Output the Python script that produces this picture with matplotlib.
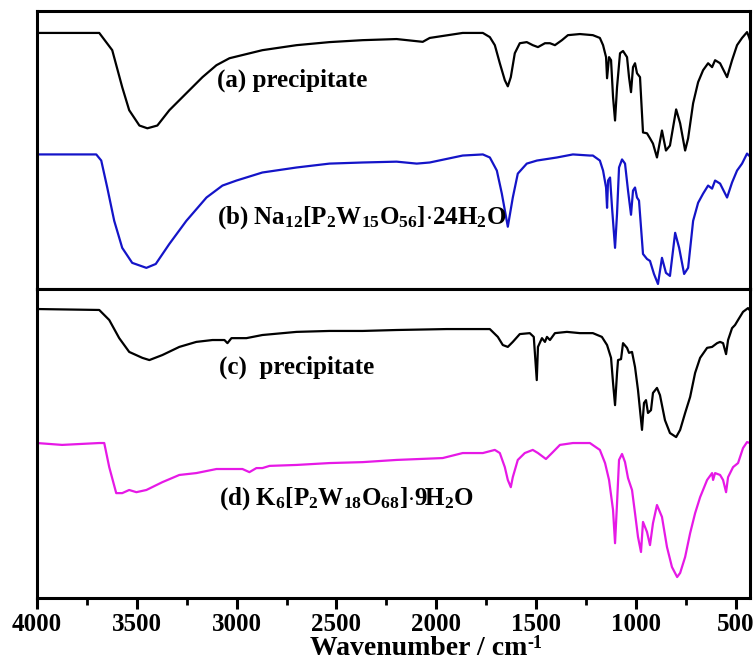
import numpy as np
import matplotlib
matplotlib.use('Agg')
import matplotlib.pyplot as plt
from matplotlib.ticker import MultipleLocator

plt.rcParams['font.family'] = 'Liberation Serif'
plt.rcParams['font.weight'] = 'bold'
plt.rcParams['mathtext.fontset'] = 'custom'
plt.rcParams['mathtext.rm'] = 'Liberation Serif:bold'
plt.rcParams['mathtext.it'] = 'Liberation Serif:bold'
plt.rcParams['mathtext.bf'] = 'Liberation Serif:bold'

# --- (a) precipitate, верхняя панель ---
a_wn = [4000, 3688, 3623, 3573, 3538, 3487, 3447, 3397, 3337, 3252,
        3171, 3101, 3036, 2871, 2700, 2535, 2369, 2199, 2068, 2033,
        1868, 1767, 1732, 1707, 1682, 1657, 1642, 1627, 1607, 1582,
        1547, 1517, 1491, 1456, 1431, 1406, 1371, 1341, 1281, 1216,
        1181, 1165, 1150, 1145, 1135, 1125, 1115, 1105, 1095, 1080,
        1065, 1045, 1035, 1025, 1015, 1005, 995, 980, 965, 945,
        930, 915, 895, 870, 850, 830, 799, 779, 754, 739,
        714, 689, 664, 639, 619, 604, 579, 544, 519, 494,
        469, 444, 434, 419]
a_T = [92.1, 92.1, 85.9, 72.6, 64.3, 58.8, 57.8, 58.8, 64.3, 70.4,
       76.2, 80.5, 83.0, 85.9, 87.7, 88.8, 89.5, 89.9, 88.9, 90.3,
       92.1, 92.1, 90.6, 87.7, 81.2, 75.1, 72.9, 76.2, 84.8, 88.4,
       88.8, 87.7, 87.0, 88.4, 88.4, 87.7, 89.5, 91.3, 91.7, 91.3,
       90.3, 87.7, 83.4, 75.8, 83.4, 82.3, 69.0, 60.6, 72.6, 84.8,
       85.6, 83.4, 76.2, 70.8, 79.8, 81.2, 77.6, 76.2, 56.3, 56.0,
       54.2, 52.3, 47.3, 57.0, 49.8, 51.6, 64.6, 59.6, 49.8, 54.2,
       66.8, 74.4, 78.7, 81.2, 79.8, 82.3, 81.2, 76.2, 82.3, 87.7,
       90.3, 92.4, 90.6, 87.0]

# --- (b) Na12[P2W15O56]·24H2O ---
b_wn = [4000, 3703, 3678, 3648, 3613, 3573, 3523, 3452, 3405, 3337,
        3252, 3151, 3071, 3001, 2871, 2700, 2535, 2369, 2199, 2098,
        2033, 1868, 1767, 1732, 1697, 1672, 1642, 1617, 1592, 1547,
        1496, 1396, 1316, 1231, 1216, 1181, 1165, 1150, 1145, 1140,
        1130, 1120, 1105, 1095, 1085, 1070, 1055, 1040, 1025, 1015,
        1005, 995, 985, 965, 945, 930, 910, 890, 870, 850,
        830, 804, 784, 759, 739, 714, 689, 664, 639, 619,
        604, 579, 544, 519, 494, 469, 444, 424]
b_T = [48.4, 48.4, 46.2, 36.5, 24.5, 14.8, 9.4, 7.6, 9.0, 16.2,
       24.5, 32.9, 37.2, 39.0, 41.9, 43.7, 45.1, 45.5, 45.8, 45.1,
       45.5, 48.0, 48.4, 47.3, 42.6, 34.3, 22.4, 32.9, 41.5, 45.1,
       46.2, 47.3, 48.4, 48.0, 48.0, 46.2, 42.6, 36.5, 29.2, 39.0,
       40.1, 29.2, 14.8, 27.1, 43.7, 46.6, 45.1, 35.4, 26.7, 35.4,
       36.5, 32.9, 31.8, 12.6, 10.8, 10.1, 5.4, 1.8, 11.2, 5.8,
       4.7, 20.2, 14.8, 5.4, 7.6, 24.5, 31.0, 34.3, 37.2, 36.1,
       39.0, 37.9, 32.9, 38.3, 42.6, 45.1, 48.7, 47.3]

# --- (c) precipitate, нижняя панель ---
c_wn = [4000, 3688, 3638, 3588, 3538, 3472, 3437, 3372, 3287, 3202,
        3121, 3061, 3046, 3026, 2951, 2871, 2700, 2535, 2369, 2199,
        1948, 1732, 1692, 1667, 1642, 1617, 1582, 1532, 1512, 1497,
        1491, 1471, 1456, 1446, 1431, 1406, 1346, 1281, 1216, 1171,
        1145, 1125, 1115, 1105, 1095, 1090, 1075, 1065, 1045, 1035,
        1020, 1005, 990, 970, 960, 950, 940, 925, 915, 895,
        880, 855, 830, 799, 779, 754, 729, 704, 679, 644,
        619, 594, 579, 564, 549, 539, 519, 504, 489, 464,
        439, 419]
c_T = [93.6, 93.3, 90.1, 84.3, 79.9, 78.0, 77.3, 78.9, 81.5, 83.1,
       83.7, 83.7, 82.7, 84.3, 84.3, 85.3, 86.3, 86.6, 86.6, 86.9,
       87.2, 87.2, 84.7, 82.1, 81.5, 83.1, 85.6, 85.9, 84.7, 70.9,
       81.5, 84.3, 83.1, 84.7, 83.7, 85.9, 86.3, 85.9, 85.9, 84.7,
       82.1, 78.0, 70.0, 62.9, 73.2, 77.3, 77.6, 82.7, 81.2, 79.6,
       79.9, 75.1, 67.7, 55.0, 63.6, 64.5, 60.4, 61.3, 66.8, 68.4,
       66.1, 58.1, 54.0, 52.7, 55.0, 60.4, 65.5, 73.2, 78.0, 81.2,
       81.5, 82.7, 83.1, 82.7, 79.2, 83.7, 87.5, 88.5, 90.1, 92.7,
       93.9, 92.3]

# --- (d) K6[P2W18O68]·9H2O ---
d_wn = [4000, 3874, 3688, 3663, 3638, 3603, 3573, 3538, 3502, 3452,
        3372, 3287, 3202, 3101, 2971, 2936, 2901, 2871, 2835, 2700,
        2535, 2369, 2199, 1968, 1868, 1767, 1707, 1682, 1657, 1642,
        1627, 1617, 1592, 1557, 1517, 1491, 1451, 1421, 1381, 1316,
        1231, 1181, 1155, 1135, 1115, 1105, 1095, 1085, 1070, 1055,
        1040, 1020, 1005, 990, 975, 965, 945, 930, 915, 895,
        870, 845, 820, 794, 779, 754, 729, 704, 679, 644,
        619, 614, 604, 579, 564, 549, 539, 514, 489, 464,
        444, 429, 419]
d_T = [50.8, 50.2, 50.8, 50.8, 43.1, 34.8, 34.8, 35.8, 35.1, 35.8,
       38.3, 40.6, 41.2, 42.5, 42.5, 41.5, 42.8, 42.8, 43.5, 43.8,
       44.4, 44.7, 45.4, 46.0, 47.6, 47.6, 48.6, 47.6, 43.1, 39.0,
       36.7, 39.9, 45.4, 47.6, 48.6, 47.6, 45.7, 47.6, 50.2, 50.8,
       50.8, 48.6, 44.4, 39.0, 29.4, 18.8, 31.6, 45.4, 47.3, 44.7,
       39.6, 35.8, 28.4, 20.8, 16.0, 25.6, 22.4, 18.2, 25.2, 31.0,
       27.2, 17.6, 11.2, 8.0, 9.3, 14.4, 22.0, 28.4, 33.5, 39.0,
       41.2, 39.0, 41.2, 40.6, 39.0, 35.1, 39.9, 43.1, 44.4, 49.2,
       51.1, 50.8, 39.9]

labels = ['(a) precipitate',
          r'(b) Na$_{12}$[P$_2$W$_{15}$O$_{56}$]$\cdot$24H$_2$O',
          '(c)  precipitate',
          r'(d) K$_6$[P$_2$W$_{18}$O$_{68}$]$\cdot$9H$_2$O']


def style_panel(ax, ylim):
    """Рамка, пределы и отсутствие делений по Y"""
    ax.set_xlim(4000, 428)
    ax.set_ylim(*ylim)
    ax.set_yticks([])
    for s in ax.spines.values():
        s.set_linewidth(2.2)


fig = plt.figure(figsize=(7.54, 6.61), dpi=100)

# Верхняя панель
ax1 = fig.add_axes([0.049, 0.5628, 0.946, 0.4206])
ax1.plot(a_wn, a_T, color='black', linewidth=1.6)
ax1.plot(b_wn, b_T, color='#1414c8', linewidth=1.6)
style_panel(ax1, (0, 100))
ax1.set_xticks([])
ax1.text(3096, 75.1, labels[0], fontsize=18, va='center', ha='left')
ax1.text(3096, 25.6, labels[1], fontsize=18, va='center', ha='left')

# Нижняя панель
ax2 = fig.add_axes([0.049, 0.0953, 0.946, 0.4675])
ax2.plot(c_wn, c_T, color='black', linewidth=1.6)
ax2.plot(d_wn, d_T, color='#e619e6', linewidth=1.6)
style_panel(ax2, (1.3, 100))
ax2.xaxis.set_major_locator(MultipleLocator(500))
ax2.xaxis.set_minor_locator(MultipleLocator(250))
ax2.tick_params(axis='x', which='major', direction='out', length=8,
                width=2.2, labelsize=18, pad=3)
ax2.tick_params(axis='x', which='minor', direction='out', length=5,
                width=2.0)
ax2.text(3086, 75.1, labels[2], fontsize=18, va='center', ha='left')
ax2.text(3086, 33.2, labels[3], fontsize=18, va='center', ha='left')

# Подпись оси X с верхним индексом "-1"
xl = fig.text(0.555, 0.009, 'Wavenumber / cm', fontsize=20,
              ha='center', va='baseline')
ax2.annotate('-1', xy=(1.0, 0.72), xycoords=xl, fontsize=13,
             ha='left', va='center', annotation_clip=False)

fig.savefig('out.png', dpi=100)
